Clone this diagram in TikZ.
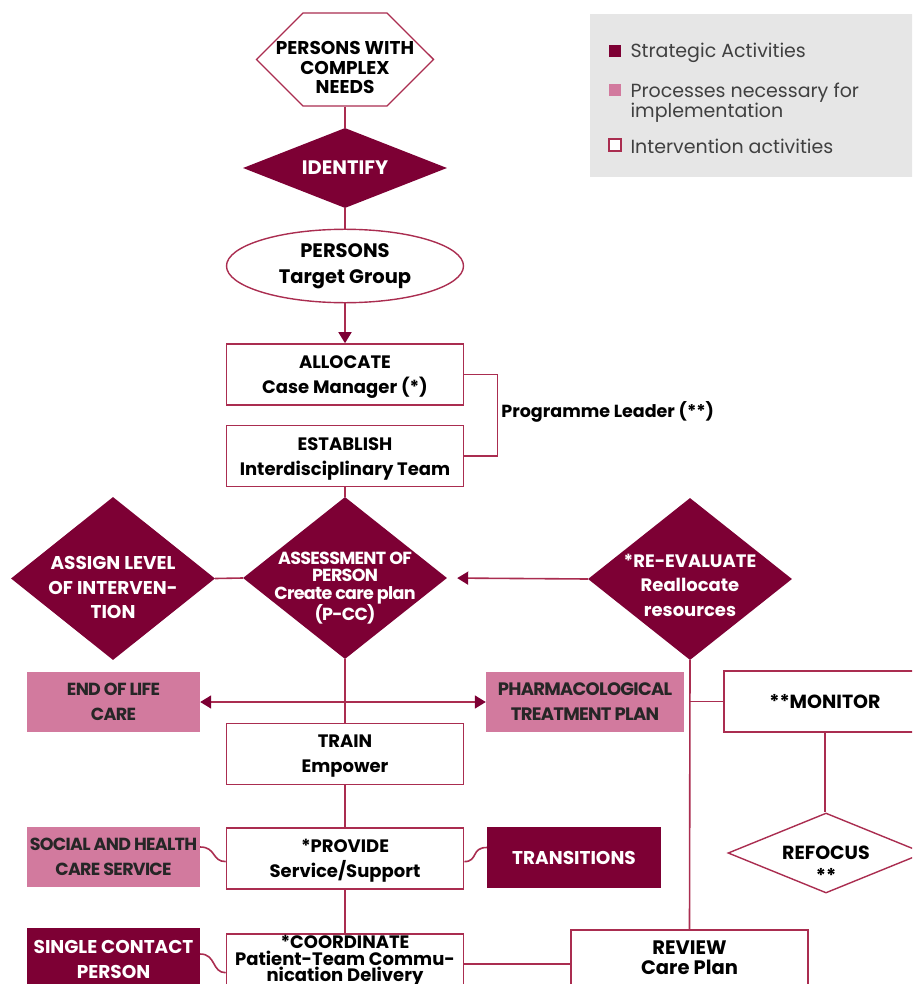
\documentclass[tikz,border=0pt]{standalone}
\usepackage{fontspec}
\setmainfont{Poppins}
\usetikzlibrary{arrows.meta, positioning, shapes.geometric, shapes.symbols}
\definecolor{stratred}{RGB}{125,0,52}
\definecolor{procpink}{RGB}{210,122,158}
\definecolor{edgered}{RGB}{170,45,80}
\definecolor{legendgray}{RGB}{230,230,230}
\definecolor{legendtext}{RGB}{64,64,64}
\newcommand{\actfont}{\bfseries\fontsize{18}{25}\selectfont}
\newcommand{\procfont}{\bfseries\fontsize{17.5}{25}\selectfont\addfontfeatures{LetterSpace=-4}}
\newcommand{\keyfont}{\fontsize{19}{20}\selectfont}

\begin{document}
\begin{tikzpicture}[x=1pt, y=-1pt, >={Triangle[length=11pt,width=13pt,color=stratred]},
    link/.style={draw=edgered, line width=1.6pt},
    actbox/.style={rectangle, draw=edgered, fill=white, line width=1.6pt, minimum width=237pt, minimum height=61pt, align=center, font=\actfont, inner sep=1pt, text depth=0pt},
    procbox/.style={rectangle, fill=procpink, minimum width=173pt, minimum height=60pt, align=center, font=\procfont, text=black!85, inner sep=1pt, text depth=0pt},
    stratbox/.style={rectangle, fill=stratred, minimum width=173pt, minimum height=61pt, align=center, font=\bfseries\fontsize{18.5}{25}\selectfont, text=white, inner sep=1pt, text depth=0pt},
    stratdiam/.style={diamond, fill=stratred, inner sep=0pt},
    diamtext/.style={align=center, text=white, font=\bfseries\fontsize{18.5}{24.5}\selectfont}]

    \useasboundingbox (0,0) rectangle (912,984);
    \clip (0,0) rectangle (912,984);

    % Legend
    \fill[legendgray] (590,14) rectangle (925,177);
    \node[fill=stratred, minimum size=12pt, inner sep=0pt] (keystrat) at (615,51) {};
    \node[anchor=west, font=\keyfont, text=legendtext] (keystrattxt) at (627,53) {Strategic Activities};
    \node[fill=procpink, minimum size=12pt, inner sep=0pt] (keyproc) at (615,90) {};
    \node[anchor=west, align=left, font=\keyfont, text=legendtext] (keyproctxt) at (627,103) {Processes necessary for\\implementation};
    \node[draw=edgered, fill=white, line width=1.3pt, minimum size=12pt, inner sep=0pt] (keyact) at (615,145) {};
    \node[anchor=west, font=\keyfont, text=legendtext] (keyacttxt) at (627,146) {Intervention activities};

    % Top of the chain
    \node[signal, signal to=east and west, draw=edgered, fill=white, line width=1.4pt, minimum width=177pt, minimum height=93pt, inner sep=0pt] (needs) at (345,59.5) {};
    \node[align=center, font=\bfseries\fontsize{18.5}{19.5}\selectfont] (needstxt) at ([yshift=-8pt]needs) {PERSONS WITH\\COMPLEX\\NEEDS};
    \node[stratdiam, minimum width=204pt, minimum height=80pt] (identify) at (345,168) {};
    \node[diamtext, font=\bfseries\fontsize{19.5}{24}\selectfont] (identifytxt) at (identify) {IDENTIFY};
    \node[ellipse, draw=edgered, fill=white, line width=1.4pt, minimum width=237pt, minimum height=72pt, align=center, font=\bfseries\fontsize{19.5}{26}\selectfont] (target) at (345,266) {PERSONS\\Target Group};

    \node[actbox] (allocate) at (345,374.5) {ALLOCATE\\Case Manager (*)};
    \node[actbox, below=19pt of allocate] (establish) {ESTABLISH\\Interdisciplinary Team};

    % Assessment row
    \node[stratdiam, minimum width=204pt, minimum height=162pt] (assess) at (345,578) {};
    \node[diamtext, font=\bfseries\fontsize{17.5}{17.5}\selectfont\addfontfeatures{LetterSpace=-4}] (assesstxt) at ([yshift=-10pt]assess) {ASSESSMENT OF\\PERSON\\Create care plan\\(P-CC)};
    \node[stratdiam, minimum width=204pt, minimum height=163pt] (assign) at (113,578.5) {};
    \node[diamtext] (assigntxt) at ([yshift=-9pt]assign) {ASSIGN LEVEL\\OF INTERVEN-\\TION};
    \node[stratdiam, minimum width=204pt, minimum height=162pt] (reeval) at (690,579) {};
    \node[diamtext, font=\bfseries\fontsize{18}{24.5}\selectfont] (reevaltxt) at ([yshift=-6pt]reeval) {*RE-EVALUATE\\Reallocate\\resources};

    % Lower part
    \node[procbox] (eol) at (113.5,702) {END OF LIFE\\CARE};
    \node[procbox, minimum width=198pt, font=\bfseries\fontsize{18}{25}\selectfont\addfontfeatures{LetterSpace=-4}] (pharm) at (585,702) {PHARMACOLOGICAL\\TREATMENT PLAN};
    \node[actbox, minimum width=202pt, font=\bfseries\fontsize{19}{25}\selectfont] (monitor) at (825,701.5) {**MONITOR};
    \node[diamond, draw=edgered, fill=white, line width=1.4pt, inner sep=0pt, minimum width=196pt, minimum height=80pt] (refocus) at (826,853) {};
    \node[align=center, font=\bfseries\fontsize{19}{23}\selectfont] (refocustxt) at ([yshift=-11pt]refocus) {REFOCUS\\**};

    \node[actbox] (train) at (345,754) {TRAIN\\Empower};
    \node[actbox, below=42pt of train] (provide) {*PROVIDE\\Service/Support};
    \node[actbox, minimum height=60pt, below=43pt of provide, font=\bfseries\fontsize{18}{16.5}\selectfont, text depth=10pt] (coord) {*COORDINATE\\Patient-Team Commu-\\nication Delivery};
    \node[procbox] (social) at (113.5,857) {SOCIAL AND HEALTH\\CARE SERVICE};
    \node[stratbox, minimum width=174pt] (transitions) at (574,857.5) {TRANSITIONS};
    \node[stratbox, minimum height=62pt] (single) at (113.5,959) {SINGLE CONTACT\\PERSON};
    \node[actbox, minimum height=56pt, font=\bfseries\fontsize{19.5}{20}\selectfont] (review) at (689.5,958) {REVIEW\\Care Plan};

    % Connections
    \draw[link] (needs.south) -- (identify.north);
    \draw[link] (identify.south) -- (target.north);
    \draw[link, ->] (target.south) -- (allocate.north);
    \draw[link] (allocate.east) -- ++(33,0) |- node[pos=0.23, right, font=\bfseries\fontsize{17.5}{18}\selectfont, text=black] (leader) {Programme Leader (**)} (establish.east);
    \draw[link] (establish.south) -- (assess.north);
    \draw[link] (assign.east) -- (assess.west);
    \draw[link, ->, shorten >=10pt] (reeval.west) -- (assess.east);
    \draw[link] (assess.south) -- (train.north);
    \draw[link, <->] (eol.east) -- (pharm.west);
    \draw[link] (reeval.south) -- (review.north);
    \draw[link] (monitor.west) -- (monitor.west -| reeval.south);
    \draw[link] (monitor.south) -- (monitor.south |- refocus.north);
    \draw[link] (train.south) -- (provide.north);
    \draw[link] (provide.south) -- (coord.north);
    \draw[link] ([yshift=10pt]social.east) .. controls +(16,0) and +(-14,0) .. ([yshift=-3pt]provide.west);
    \draw[link] ([yshift=-3pt]provide.east) .. controls +(14,0) and +(-16,0) .. ([yshift=10pt]transitions.west);
    \draw[link] ([yshift=5pt]single.east) .. controls +(16,0) and +(-14,0) .. ([yshift=-9pt]coord.west);
    \draw[link] (coord.east) -- (coord.east -| review.west);
\end{tikzpicture}
\end{document}
